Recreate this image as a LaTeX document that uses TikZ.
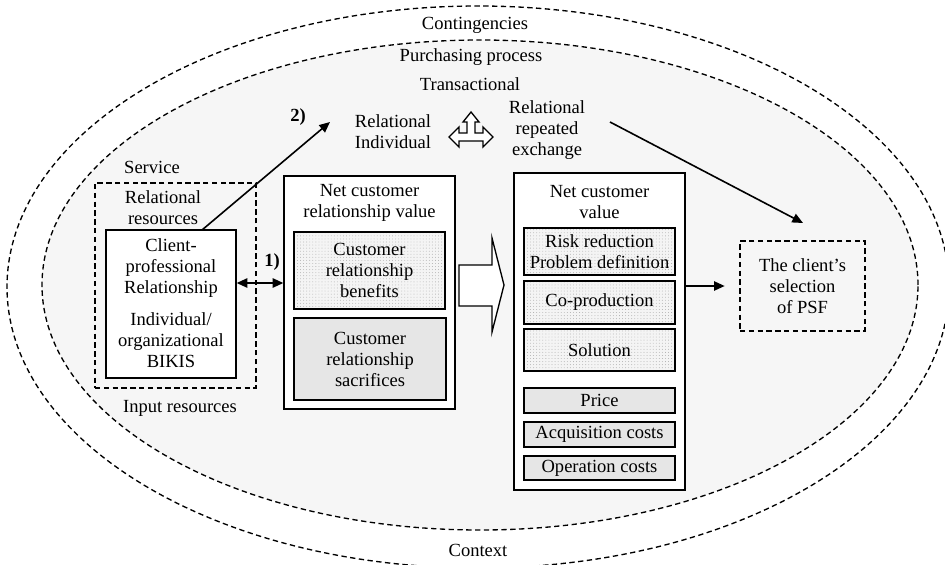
\documentclass[tikz,border=0pt]{standalone}
\usepackage{fontspec}
\setmainfont{Liberation Serif}[Ligatures=TeX]
\newfontfamily\labelserif{Liberation Serif}
\usetikzlibrary{arrows.meta,fit,patterns.meta}
\definecolor{ringfill}{HTML}{F6F6F6}
\definecolor{costfill}{HTML}{E6E6E6}
\definecolor{benefitfill}{HTML}{F4F4F4}
\begin{document}
\begin{tikzpicture}[x=0.75pt,y=-0.75pt,
  every node/.style={font=\labelserif\fontsize{13.9pt}{15.75pt}\selectfont, align=center, inner sep=0pt},
  ring/.style={dashed, dash pattern=on 4pt off 2.6pt, line width=1pt},
  frame/.style={draw, line width=1pt, fill=white, inner sep=0pt},
  dashframe/.style={draw, dashed, dash pattern=on 4pt off 2.6pt, line width=1pt, inner sep=0pt},
  benefit/.style={draw, line width=1.1pt, inner sep=0pt, preaction={fill=benefitfill},
    pattern={Dots[distance=2.3pt, radius=0.32pt]}, pattern color=gray!70},
  cost/.style={draw, line width=1.1pt, inner sep=0pt, fill=costfill},
  link/.style={line width=1.2pt, -{Triangle[length=8pt,width=7pt]}},
  boldlabel/.style={font=\labelserif\fontsize{13.9pt}{15.75pt}\selectfont\bfseries}]
\useasboundingbox (0,0) rectangle (945,564);

% context and purchasing-process ellipses
\draw[ring] (478,287) ellipse [x radius=353.25pt, y radius=210.75pt];
\draw[ring, fill=ringfill] (480,285) ellipse [x radius=328.5pt, y radius=183.75pt];

% ring labels
\node (contingencies) at (475,25) {Contingencies};
\node (purchasing) at (471,57) {Purchasing process};
\node (transactional) at (470,84) {Transactional};
\node (context) at (478,550) {Context};

% service block
\node[dashframe, fit={(95,183)(256,388)}] (service) {};
\node (servicelbl) at (152,167) {Service};
\node (relres) at (163,207.5) {Relational\\resources};
\node (inputres) at (180,408) {Input resources};
\node[frame, fit={(106,230)(236,378)}] (client) {};
\node (clienttxt) at (171,268) {Client-\\professional\\Relationship};
\node (bikis) at (171,340) {Individual/\\organizational\\BIKIS};

% net customer relationship value
\node[frame, fit={(284,176)(455,409)}] (ncrv) {};
\node (ncrvtitle) at (369.5,202.5) {Net customer\\relationship value};
\node[benefit, fit={(294,232)(445,309)}] (benefits) {};
\node at (benefits.center) {Customer\\relationship\\benefits};
\node[cost, fit={(294,318)(446,400)}] (sacrifices) {};
\node at (sacrifices.center) {Customer\\relationship\\sacrifices};

% block arrow between the value boxes
\draw[line width=1pt, fill=white] (459,265) -- (492,265) -- (492,238) -- (504,285)
  -- (492,332) -- (492,306) -- (459,306) -- cycle;

% net customer value
\node[frame, fit={(514,173)(685,490)}] (ncv) {};
\node (ncvtitle) at (599.5,202.5) {Net customer\\value};
\node[benefit, fit={(524,228)(675,275)}] (risk) {};
\node at (risk.center) {Risk reduction\\Problem definition};
\node[benefit, fit={(524,281)(675,324)}] (coprod) {};
\node at (coprod.center) {Co-production};
\node[benefit, fit={(524,329)(675,371)}] (solution) {};
\node at (solution.center) {Solution};
\node[cost, fit={(524,388)(675,413)}] (price) {};
\node at (price.center) {Price};
\node[cost, fit={(524,422)(675,447)}] (acq) {};
\node at (acq.center) {Acquisition costs};
\node[cost, fit={(524,456)(675,480)}] (oper) {};
\node at (oper.center) {Operation costs};

% selection of the PSF
\node[dashframe, fit={(740,241)(865,331)}] (psf) {};
\node at (psf.center) {The client’s\\selection\\of PSF};

% relationship modes
\node (relind) at (393,131.5) {Relational\\Individual};
\node (relrep) at (547,130) {Relational\\repeated\\exchange};
\draw[line width=1pt, fill=white] (471,112) -- (479,122) -- (475,122) -- (475,133)
  -- (483,133) -- (483,127) -- (493,137) -- (483,147) -- (483,141) -- (459,141)
  -- (459,147) -- (449,137) -- (459,127) -- (459,133) -- (467,133) -- (467,122)
  -- (463,122) -- cycle;

% connectors
\coordinate (tip2) at (330,122);
\coordinate (relstart) at (610,122);
\coordinate (psftop) at (803,223);
\draw[line width=1.2pt, {Triangle[length=8pt,width=7pt]}-{Triangle[length=8pt,width=7pt]}]
  (client.east |- 0,283) -- (ncrv.west |- 0,283);
\node[boldlabel] (lbl1) at (272,262) {1)};
\draw[link] (202,230) -- (tip2);
\node[boldlabel] (lbl2) at (298,117) {2)};
\draw[link] (relstart) -- (psftop);
\draw[link, shorten >=11pt] (ncv.east |- 0,286) -- (psf.west |- 0,286);
\end{tikzpicture}
\end{document}
